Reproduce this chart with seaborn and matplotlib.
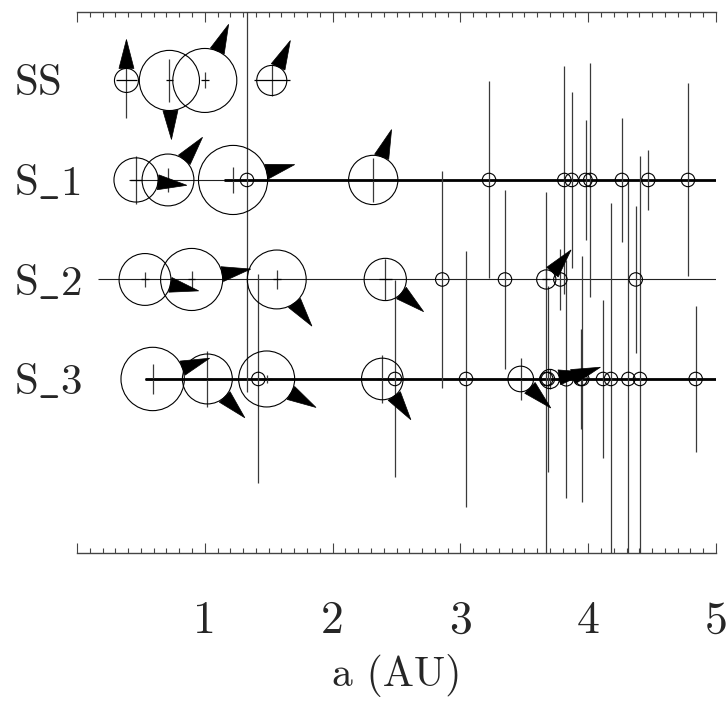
import numpy as np
import pandas as pd
import matplotlib
matplotlib.use("Agg")
import matplotlib.pyplot as plt
import matplotlib.transforms as mtrans
from matplotlib.patches import Polygon
from matplotlib.ticker import MultipleLocator
import seaborn as sns

# ---------------- data ----------------
rows = ["SS", "S_1", "S_2", "S_3"]
row_y = [3, 2, 1, 0]

# semi-major axis (AU), relative size (Earth = 1), vertical bar half-length
# (inclination, row units), horizontal bar half-length (AU), spin direction (deg)
ss_a = [0.387, 0.723, 1.0, 1.524]
ss_size = [0.375, 0.94, 1.0, 0.47]
ss_incl = [0.38, 0.22, 0.08, 0.16]
ss_ecc = [0.08, 0.03, 0.03, 0.14]
ss_obl = [0, 178, 23, 25]

s1_a = [0.462, 0.712, 1.221, 2.318, 1.330, 3.224, 3.813, 3.871, 3.979, 4.016, 4.264, 4.470, 4.781]
s1_size = [0.69, 0.81, 1.08, 0.77, 0.21, 0.21, 0.21, 0.21, 0.21, 0.21, 0.21, 0.21, 0.21]
s1_incl = [0.24, 0.12, 0.13, 0.22, 2.13, 0.99, 1.15, 0.88, 0.60, 1.18, 0.62, 0.30, 0.97]
s1_ecc = [0.05, 0.03, 0.05, 0.03, 0, 0, 0, 0, 0, 0, 0, 0, 0]
s1_obl = [96, 39, 76, 20, np.nan, np.nan, np.nan, np.nan, np.nan, np.nan, np.nan, np.nan, np.nan]

s2_a = [0.532, 0.897, 1.563, 2.412, 3.672, 2.858, 3.349, 3.782, 4.372]
s2_size = [0.81, 0.97, 0.92, 0.66, 0.30, 0.21, 0.21, 0.21, 0.21]
s2_incl = [0.075, 0.09, 0.10, 0.21, 0.10, 1.09, 0.90, 0.31, 0.74]
s2_ecc = [0.03, 0.03, 0.03, 0.05, 0.03, 0, 0, 0, 0]
s2_obl = [102, 80, 143, 130, 40, np.nan, np.nan, np.nan, np.nan]

s3_a = [0.592, 1.020, 1.484, 2.389, 3.472, 3.700, 3.829, 1.419, 2.488, 3.044,
        3.672, 3.685, 3.940, 3.954, 4.116, 4.178, 4.314, 4.405, 4.841]
s3_size = [0.99, 0.78, 0.875, 0.65, 0.40, 0.30, 0.22, 0.21, 0.21, 0.21,
           0.21, 0.21, 0.21, 0.21, 0.21, 0.21, 0.21, 0.21, 0.21]
s3_incl = [0.15, 0.28, 0.04, 0.24, 0.21, 0.10, 1.20, 1.05, 0.99, 1.29,
           1.88, 0.93, 0.50, 1.24, 0.79, 1.77, 1.99, 2.24, 0.73]
s3_ecc = [0.06, 0.04, 0.04, 0.04, 0.04, 0, 0, 0, 0, 0, 0, 0, 0, 0, 0, 0, 0, 0, 0]
s3_obl = [70, 136, 120, 145, 134, 80, 71, np.nan, np.nan, np.nan,
          np.nan, np.nan, np.nan, np.nan, np.nan, np.nan, np.nan, np.nan, np.nan]

# row guide lines: start of thin part and start of bold part (AU), both run to 5 AU
line_from = [np.nan, 0.41, 0.164, 0.532]
bold_from = [np.nan, 1.15, np.nan, 0.532]

x_ticks = [0, 1, 2, 3, 4, 5]
x_ticklabels = ["", "1", "2", "3", "4", "5"]

# ---------------- build table ----------------
frames = []
for name, yv, a, sz, inc, ecc, obl in [
    ("SS", 3, ss_a, ss_size, ss_incl, ss_ecc, ss_obl),
    ("S_1", 2, s1_a, s1_size, s1_incl, s1_ecc, s1_obl),
    ("S_2", 1, s2_a, s2_size, s2_incl, s2_ecc, s2_obl),
    ("S_3", 0, s3_a, s3_size, s3_incl, s3_ecc, s3_obl),
]:
    frames.append(pd.DataFrame({"system": name, "y": yv, "a": a, "size": sz,
                                "incl": inc, "ecc": ecc, "obl": obl}))
df = pd.concat(frames, ignore_index=True)

# ---------------- figure ----------------
sns.set_style("white")
plt.rcParams["font.family"] = ["cmr10", "DejaVu Serif"]
plt.rcParams["mathtext.fontset"] = "cm"
plt.rcParams["axes.unicode_minus"] = False

W, H, DPI = 727, 701, 100
fig = plt.figure(figsize=(W / DPI, H / DPI), dpi=DPI)
ax = fig.add_axes([77 / W, 148 / H, 639 / W, 541 / H])
ax.set_xlim(0, 5)
ax.set_ylim(-1.749, 3.688)

R_PX = 32.0          # radius in pixels of a size-1 body
PT = 72.0 / DPI      # points per pixel
ink = "black"

# row guide lines
for yv, f0, b0 in zip(row_y, line_from, bold_from):
    if not np.isnan(f0):
        ax.hlines(yv, f0, 5, color="#222222", lw=0.8, zorder=2)
    if not np.isnan(b0):
        ax.hlines(yv, b0, 5, color=ink, lw=2.0, zorder=2)

# inclination bars and eccentricity bars
ax.vlines(df["a"], df["y"] - df["incl"], df["y"] + df["incl"], color="#3a3a3a", lw=0.9, zorder=3)
ecc_df = df[df["ecc"] > 0]
ax.hlines(ecc_df["y"], ecc_df["a"] - ecc_df["ecc"], ecc_df["a"] + ecc_df["ecc"], color=ink, lw=0.9, zorder=3)

# bodies
df["s"] = (2 * R_PX * df["size"] * PT) ** 2
sns.scatterplot(data=df, x="a", y="y", s=df["s"].values, marker="o",
                facecolor="none", edgecolor=ink, linewidth=0.8, ax=ax,
                legend=False, zorder=4)

# spin-direction wedges
for _, r in df.dropna(subset=["obl"]).iterrows():
    th = np.deg2rad(r["obl"])
    d = np.array([np.sin(th), np.cos(th)])
    n = np.array([np.cos(th), -np.sin(th)])
    rp = R_PX * r["size"]
    base = d * rp
    verts = np.array([base + n * 7.5, base - n * 7.5, d * (rp + 29.0)]) / DPI
    tr = fig.dpi_scale_trans + mtrans.ScaledTranslation(r["a"], r["y"], ax.transData)
    ax.add_patch(Polygon(verts, closed=True, fc=ink, ec=ink, lw=0.5,
                         transform=tr, zorder=5, clip_on=False))

# axes styling
for side in ["left", "right"]:
    ax.spines[side].set_visible(False)
for side in ["top", "bottom"]:
    ax.spines[side].set_color("#444444")
    ax.spines[side].set_linewidth(1.0)

ax.set_xticks(x_ticks)
ax.set_xticklabels(x_ticklabels, fontsize=33)
ax.xaxis.set_minor_locator(MultipleLocator(0.1))
ax.tick_params(axis="x", which="both", direction="in", top=True, bottom=True,
               color="#444444", width=0.8, pad=34)
ax.tick_params(axis="x", which="major", length=7.5)
ax.tick_params(axis="x", which="minor", length=3.5)

# row labels: written with mathtext so the underscore is drawn as a low line
row_labels = [r"$\mathrm{" + name.replace("_", r"\_") + "}$" for name in rows]
ax.set_yticks(row_y)
ax.set_yticklabels(row_labels, fontsize=31)
ax.tick_params(axis="y", length=0, pad=45.4)
for lab in ax.get_yticklabels():
    lab.set_horizontalalignment("left")

ax.set_xlabel("a (AU)", fontsize=30, labelpad=9)
ax.set_ylabel("")

fig.savefig("out.png", dpi=DPI)
